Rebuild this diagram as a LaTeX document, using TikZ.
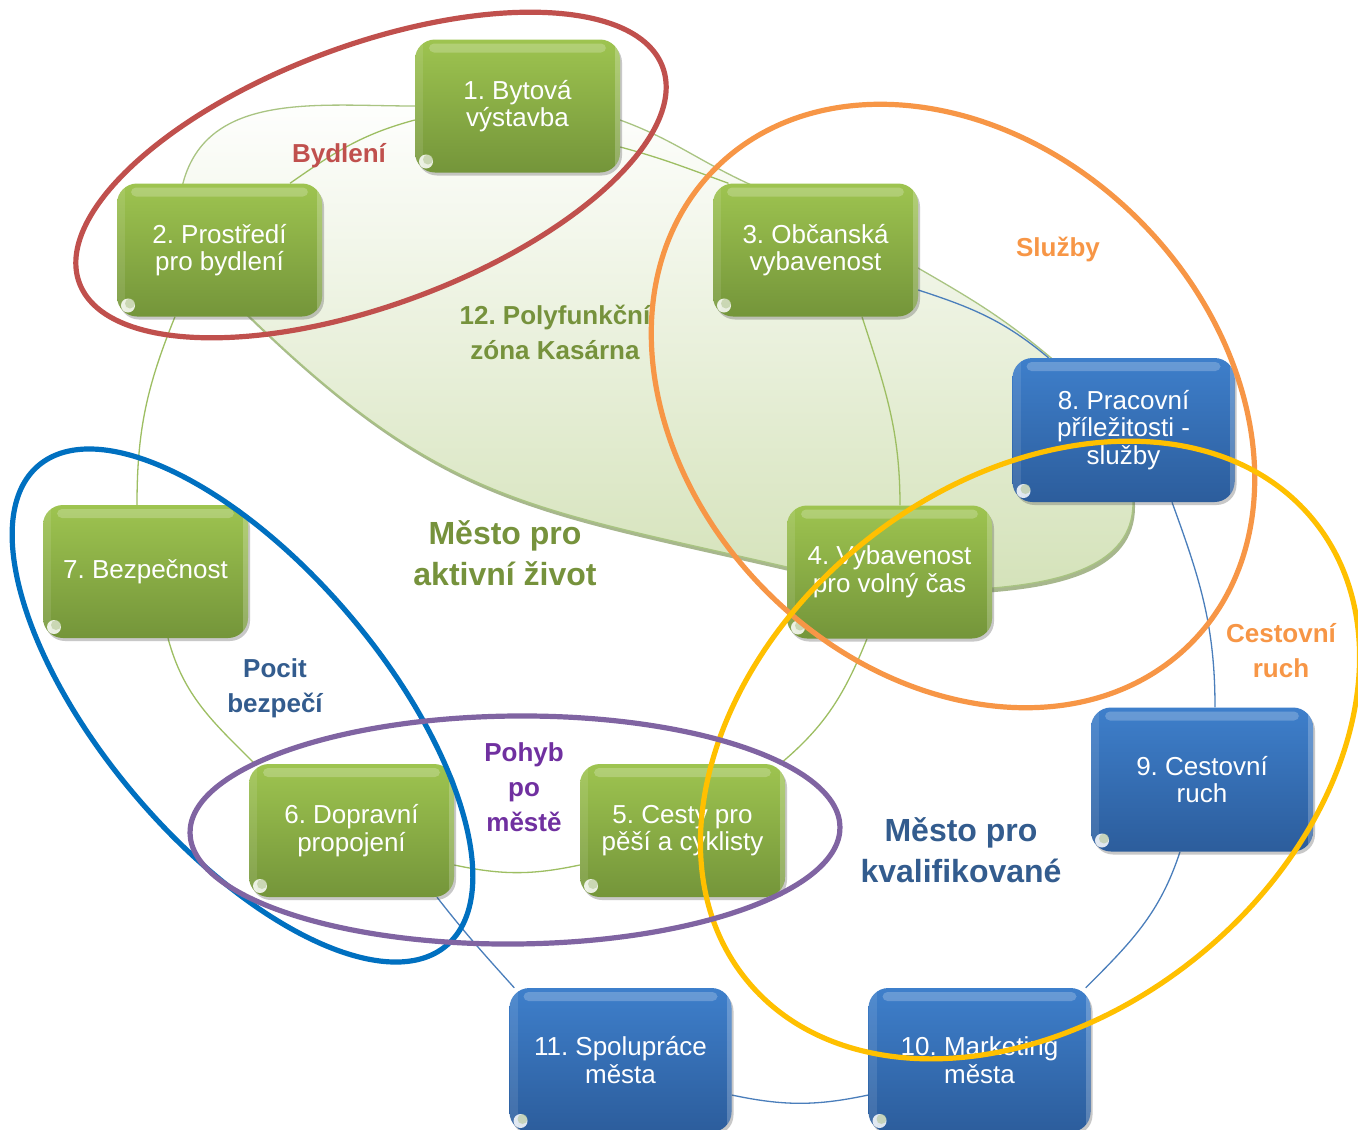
\documentclass[tikz,border=0pt]{standalone}
\usepackage{fontspec}
\setmainfont{Liberation Sans}
\frenchspacing
\usetikzlibrary{shadows,calc}
\definecolor{gtop}{HTML}{9EC450}
\definecolor{gbot}{HTML}{74953A}
\definecolor{btop}{HTML}{3E7FCB}
\definecolor{bbot}{HTML}{2C5D9C}
\definecolor{regfill}{HTML}{D4E2B9}
\definecolor{regline}{HTML}{A9C482}
\definecolor{regshadow}{HTML}{A7B78D}
\definecolor{gline}{HTML}{9DBE62}
\definecolor{bline}{HTML}{4A7EBB}
\definecolor{redc}{HTML}{C0504D}
\definecolor{orc}{HTML}{F79646}
\definecolor{yelc}{HTML}{FFC000}
\definecolor{bluc}{HTML}{0070C0}
\definecolor{purc}{HTML}{8064A2}
\definecolor{purtext}{HTML}{7030A0}
\definecolor{olive}{HTML}{76923C}
\definecolor{navy}{HTML}{335C8E}
\pgfdeclarelayer{regionlayer}
\pgfdeclarelayer{conlayer}
\pgfsetlayers{regionlayer,conlayer,main}
\tikzset{
  glossy/.style={
    path picture={
      \fill[white,opacity=0.22,rounded corners=5pt] ([xshift=14pt,yshift=-4pt]path picture bounding box.north west) rectangle ([xshift=-14pt,yshift=-13pt]path picture bounding box.north east);
      \fill[white,opacity=0.10,sharp corners] (path picture bounding box.north west) rectangle ([xshift=8pt]path picture bounding box.south west);
      \fill[white,opacity=0.22,sharp corners] ([xshift=-5pt]path picture bounding box.north east) rectangle (path picture bounding box.south east);
      \fill[white,opacity=0.85] ([xshift=11pt,yshift=11pt]path picture bounding box.south west) circle (7pt);
      \fill[white!40!gbot,opacity=0.5] ([xshift=13pt,yshift=13pt]path picture bounding box.south west) circle (5pt);
    }},
  boxbase/.style={rounded corners=20pt, draw=none, text=white, align=center, inner sep=0pt,
    font=\fontsize{26}{27.6}\selectfont,
    drop shadow={shadow xshift=2pt, shadow yshift=-3pt, opacity=0.3, fill=black!70}, glossy},
  gbox/.style={boxbase, minimum width=205pt, minimum height=133pt, top color=gtop, bottom color=gbot},
  bbox/.style={boxbase, minimum width=222pt, minimum height=144pt, top color=btop, bottom color=bbot},
  gcon/.style={draw=gline, line width=1.3pt},
  bcon/.style={draw=bline, line width=1.3pt},
  lab/.style={font=\fontsize{26}{35}\selectfont\bfseries, align=center, inner sep=0pt},
  biglab/.style={font=\fontsize{32}{41.5}\selectfont\bfseries, align=center, inner sep=0pt},
  ring/.style={line width=5.2pt}
}
\begin{document}
\begin{tikzpicture}[x=1pt,y=1pt]
\useasboundingbox (0,0) rectangle (1358,-1130);

% nodes
\node[gbox] (n1) at (517.5,-106) {1. Bytová\\výstavba};
\node[gbox] (n2) at (219.5,-250) {2. Prostředí\\pro bydlení};
\node[gbox] (n3) at (815.5,-250) {3. Občanská\\vybavenost};
\node[gbox] (n4) at (889.5,-572) {4. Vybavenost\\pro volný čas};
\node[gbox] (n5) at (682.5,-830.5) {5. Cesty pro\\pěší a cyklisty};
\node[gbox] (n6) at (351.5,-830.5) {6. Dopravní\\propojení};
\node[gbox] (n7) at (145.5,-571.5) {7. Bezpečnost};
\node[bbox] (n8) at (1123.5,-430) {8. Pracovní\\příležitosti -\\služby};
\node[bbox] (n9) at (1202,-779.5) {9. Cestovní\\ruch};
\node[bbox] (n10) at (979.5,-1060) {10. Marketing\\města};
\node[bbox] (n11) at (620.5,-1060) {11. Spolupráce\\města};

% background and region 12
\begin{pgfonlayer}{regionlayer}
\fill[white] (0,0) rectangle (1358,-1130);
\begin{scope}[xshift=2pt,yshift=-4pt]
\fill[regshadow] (183,-183) to[out=75,in=180] (414,-106) to[out=0,in=170] (620,-120)
  to[out=-20,in=155] (747,-183) to[out=-25,in=150] (918,-268) to[out=-30,in=140] (1050,-357)
  to[out=-40,in=90] (1133,-503) to[out=-90,in=5] (993,-588) to[out=185,in=-5] (787,-567)
  to[out=167,in=-44,looseness=1.15] (250,-317) to[out=136,in=-100] cycle;
\end{scope}
\path[draw=regline, line width=1.3pt, top color=white, bottom color=regfill]
  (183,-183) to[out=75,in=180] (414,-106) to[out=0,in=170] (620,-120)
  to[out=-20,in=155] (747,-183) to[out=-25,in=150] (918,-268) to[out=-30,in=140] (1050,-357)
  to[out=-40,in=90] (1133,-503) to[out=-90,in=5] (993,-588) to[out=185,in=-5] (787,-567)
  to[out=167,in=-44,looseness=1.15] (250,-317) to[out=136,in=-100] cycle;
\end{pgfonlayer}

% connectors
\begin{pgfonlayer}{conlayer}
\draw[gcon] ([yshift=-14pt]n1.west) to[out=195,in=35] ([xshift=70.5pt]n2.north);
\draw[gcon] ([yshift=-41pt]n1.east) to[out=-15,in=160] ([xshift=-87pt]n3.north);
\draw[gcon] ([xshift=-44.5pt]n2.south) to[out=-112,in=90] ([xshift=-8.5pt]n7.north);
\draw[gcon] ([xshift=22.5pt]n7.south) to[out=-75,in=135] ([xshift=6pt]n6.north west);
\draw[gcon] ([yshift=-34.5pt]n6.east) to[out=-12,in=192] ([yshift=-34.5pt]n5.west);
\draw[gcon] ([xshift=-22.5pt]n4.south) to[out=-112,in=40] ([xshift=-5pt]n5.north east);
\draw[gcon] ([xshift=46.5pt]n3.south) to[out=-72,in=90] ([xshift=10.5pt]n4.north);
\draw[bcon] ([yshift=-40pt]n3.east) to[out=-18,in=140] ([xshift=-75pt]n8.north);
\draw[bcon] ([xshift=48.5pt]n8.south) to[out=-70,in=90] ([xshift=13pt]n9.north);
\draw[bcon] ([xshift=-22pt]n9.south) to[out=-108,in=45] ([xshift=-5pt]n10.north east);
\draw[bcon] ([yshift=-35pt]n10.west) to[out=192,in=-12] ([yshift=-35pt]n11.east);
\draw[bcon] ([xshift=5pt]n11.north west) to[out=132,in=-52] ([xshift=85.5pt]n6.south);
\end{pgfonlayer}

% labels
\node[lab, text=redc] (lbyd) at (339,-156) {Bydlení};
\node[lab, text=olive] (lpoly) at (555,-332) {12. Polyfunkční\\zóna Kasárna};
\node[lab, text=orc] (lsluz) at (1058,-249) {Služby};
\node[biglab, text=olive] (lakt) at (505,-553) {Město pro\\aktivní život};
\node[lab, text=navy] (lpocit) at (275,-688) {Pocit\\bezpečí};
\node[lab, text=purtext] (lpohyb) at (524,-787) {Pohyb\\po\\městě};
\node[lab, text=orc] (lcest) at (1281,-651) {Cestovní\\ruch};
\node[biglab, text=navy] (lkval) at (961,-850) {Město pro\\kvalifikované};

% rings
\draw[ring, draw=redc, rotate around={20.3:(371,-175)}] (371,-175) ellipse [x radius=311pt, y radius=130pt];
\draw[ring, draw=orc, rotate around={-45:(953,-406)}] (953,-406) ellipse [x radius=336pt, y radius=263pt];
\draw[ring, draw=yelc, rotate around={38.9:(1030,-750)}] (1030,-750) ellipse [x radius=365pt, y radius=266pt];
\draw[ring, draw=bluc, rotate around={130.4:(242.5,-705.5)}] (242.5,-705.5) ellipse [x radius=315pt, y radius=140pt];
\draw[ring, draw=purc, rotate around={0.5:(515,-830)}] (515,-830) ellipse [x radius=325pt, y radius=114pt];
\end{tikzpicture}
\end{document}
